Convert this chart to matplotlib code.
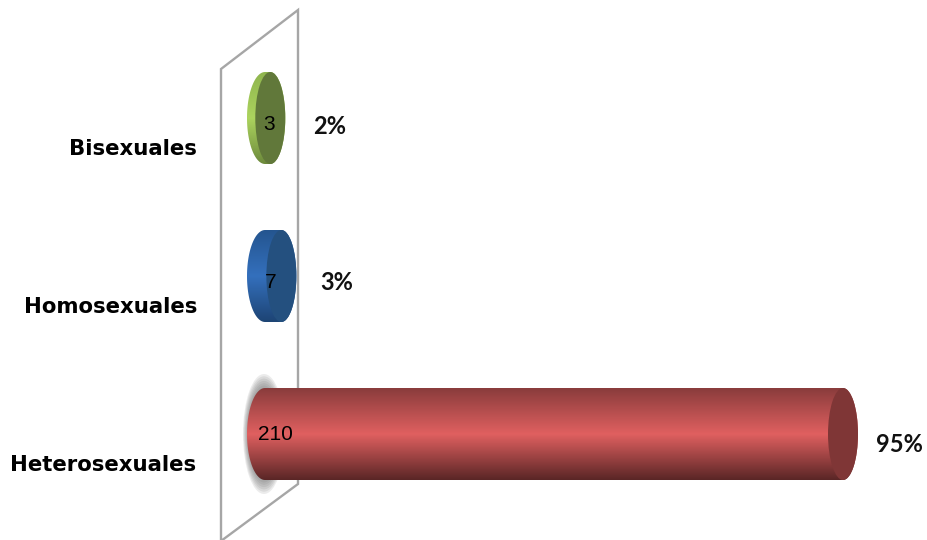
# plot.py - barra horizontal estilo cilindro 3D
import numpy as np
import matplotlib
matplotlib.use('Agg')
import matplotlib.pyplot as plt
from matplotlib.colors import LinearSegmentedColormap
from matplotlib.patches import Ellipse, PathPatch, Polygon
from matplotlib.path import Path

categorias = ['Heterosexuales', 'Homosexuales', 'Bisexuales']
valores = [210, 7, 3]
porcentajes = ['95%', '3%', '2%']

# sombreado de cada barra: borde sup, centro, borde inf, tapa
sombras = [
    ['#8a3c3c', '#e06060', '#5a2626', '#7f3636'],
    ['#24558f', '#3470bd', '#1d4474', '#24507f'],
    ['#8fb54e', '#acd45e', '#6d8a3c', '#61783a'],
]
off_pct = [(56, -11), (55, -6), (59, -8)]
off_val = [(13, 0), (9, -6), (7, -6)]
off_cat = [-66, -65, -65]

W, H = 927, 540
X0, PX_X = 262, 581 / 210    # pixel del cero, pixeles por unidad
Y0, PX_Y = 434, 158          # pixel de la primera fila, pixeles por fila
RX, RY = 15 / PX_X, 46 / PX_Y
RXB, XB = 18 / PX_X, 3 / PX_X   # base un poco mas ancha que la tapa

fig = plt.figure(figsize=(W / 100, H / 100), dpi=100)
ax = fig.add_axes([0, 0, 1, 1])
ax.set_axis_off()
xlim = (-X0 / PX_X, (W - X0) / PX_X)
ylim = ((Y0 - H) / PX_Y, Y0 / PX_Y)


def px(x, y):
    return ((x - X0) / PX_X, (Y0 - y) / PX_Y)


# pared del fondo
pared = [px(221, 69), px(298, 10), px(298, 484), px(221, 541)]
ax.add_patch(Polygon(pared, closed=True, fill=False, edgecolor='#a6a6a6', lw=1.7, zorder=1))

# sombra difusa detras de la barra grande
for k in np.linspace(1, 0.5, 14):
    ax.add_patch(Ellipse(px(264, 434), 2 * 21 * k / PX_X, 2 * 60 * k / PX_Y,
                         color='#6a6a6a', alpha=0.13, lw=0, zorder=2))

t = np.linspace(0, np.pi, 60)
for i, (v, colores) in enumerate(zip(valores, sombras)):
    # cuerpo: mitad izquierda de la base + mitad derecha de la tapa
    bx = XB - RXB * np.sin(t)
    by = i + RY * np.cos(t)
    cx = v + RX * np.sin(t[::-1])
    cy = i + RY * np.cos(t[::-1])
    pts = np.column_stack([np.r_[bx, cx], np.r_[by, cy]])
    cuerpo = PathPatch(Path(np.vstack([pts, pts[0]]), closed=True), fc='none', ec='none')
    ax.add_patch(cuerpo)
    cmap = LinearSegmentedColormap.from_list('c', colores[:3])
    img = ax.imshow(np.linspace(0, 1, 200).reshape(-1, 1), cmap=cmap, aspect='auto',
                    extent=(XB - RXB, v + RX, i - RY, i + RY), origin='upper', zorder=3)
    img.set_clip_path(cuerpo)
    ax.add_patch(Ellipse((v, i), 2 * RX, 2 * RY, fc=colores[3], ec='none', zorder=4))

    ax.annotate(str(v), (0, i), xytext=off_val[i], textcoords='offset pixels', ha='center',
                va='center', fontsize=15, family='Liberation Sans', color='black', zorder=5)
    ax.annotate(porcentajes[i], (v, i), xytext=off_pct[i], textcoords='offset pixels', ha='center',
                va='center', fontsize=17, family='Lato', fontweight='bold', color='#111111', zorder=5)
    ax.annotate(categorias[i], (0, i), xytext=(off_cat[i], -31), textcoords='offset pixels', ha='right',
                va='center', fontsize=15.3, family='DejaVu Sans', fontweight='bold', color='black', zorder=5)

ax.set_xlim(xlim)
ax.set_ylim(ylim)
fig.savefig('out.png', dpi=100)
